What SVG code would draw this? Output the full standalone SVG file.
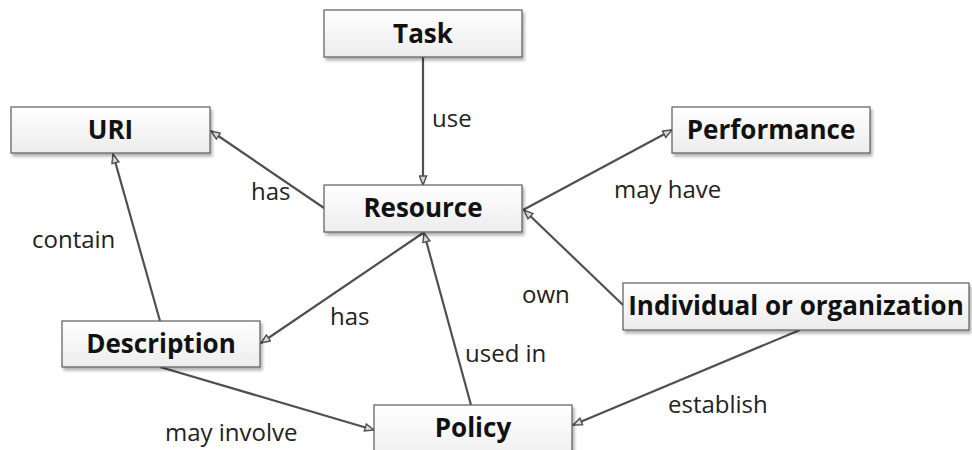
<svg xmlns="http://www.w3.org/2000/svg" width="972" height="450" viewBox="0 0 972 450">
  <defs>
    <linearGradient id="boxFill" x1="0" y1="0" x2="0" y2="1">
      <stop offset="0" stop-color="#ffffff"/>
      <stop offset="1" stop-color="#ececec"/>
    </linearGradient>
    <filter id="shadow" x="-10%" y="-20%" width="120%" height="150%">
      <feGaussianBlur in="SourceAlpha" stdDeviation="1.5"/>
      <feOffset dx="2" dy="3" result="b"/>
      <feComponentTransfer><feFuncA type="linear" slope="0.3"/></feComponentTransfer>
      <feMerge><feMergeNode/><feMergeNode in="SourceGraphic"/></feMerge>
    </filter>
    <marker id="arrow" viewBox="0 0 12 10" refX="11" refY="5" markerWidth="11" markerHeight="9" markerUnits="userSpaceOnUse" orient="auto">
      <path d="M1,1 L11,5 L1,9 Z" fill="#d8d8d8" stroke="#505050" stroke-width="1.6" stroke-linejoin="miter"/>
    </marker>
  </defs>
  <style>
    .box { fill: url(#boxFill); stroke: #5a5a5a; stroke-width: 1.2; filter: url(#shadow); }
    .node { font-family: "Open Sans", "Liberation Sans", sans-serif; font-weight: 700; font-size: 26px; fill: #111111; text-anchor: middle; }
    .edge { stroke: #505050; stroke-width: 2.2; fill: none; marker-end: url(#arrow); }
    .lbl { font-family: "Open Sans", "Liberation Sans", sans-serif; font-size: 24px; fill: #222222; }
  </style>
  <rect width="972" height="450" fill="#ffffff"/>

  <g id="connectors">
    <line class="edge" x1="423" y1="57" x2="423" y2="185"/>
    <line class="edge" x1="324" y1="208" x2="211" y2="131"/>
    <line class="edge" x1="523" y1="210" x2="672" y2="130"/>
    <line class="edge" x1="623" y1="305" x2="524" y2="210"/>
    <line class="edge" x1="423" y1="233" x2="261" y2="343"/>
    <line class="edge" x1="471" y1="405" x2="424" y2="233"/>
    <line class="edge" x1="160" y1="321" x2="113" y2="154"/>
    <line class="edge" x1="160" y1="367" x2="374" y2="430"/>
    <line class="edge" x1="800" y1="330" x2="573" y2="425"/>
    <text class="lbl" x="432" y="127">use</text>
    <text class="lbl" x="251" y="200">has</text>
    <text class="lbl" x="614" y="198">may have</text>
    <text class="lbl" x="32" y="248">contain</text>
    <text class="lbl" x="522" y="303">own</text>
    <text class="lbl" x="330" y="325">has</text>
    <text class="lbl" x="465" y="362">used in</text>
    <text class="lbl" x="668" y="413">establish</text>
    <text class="lbl" x="165" y="441">may involve</text>
  </g>

  <g id="task">
    <rect class="box" x="324" y="10" width="198" height="47"/>
    <text class="node" x="423" y="43">Task</text>
  </g>
  <g id="uri">
    <rect class="box" x="11" y="107" width="199" height="46"/>
    <text class="node" x="110.5" y="139">URI</text>
  </g>
  <g id="performance">
    <rect class="box" x="672" y="107" width="198" height="46"/>
    <text class="node" x="771" y="139">Performance</text>
  </g>
  <g id="resource">
    <rect class="box" x="324" y="185" width="198" height="47"/>
    <text class="node" x="423" y="217">Resource</text>
  </g>
  <g id="individual">
    <rect class="box" x="623" y="283" width="346" height="47"/>
    <text class="node" x="796" y="315">Individual or organization</text>
  </g>
  <g id="description">
    <rect class="box" x="62" y="321" width="198" height="46"/>
    <text class="node" x="161" y="353">Description</text>
  </g>
  <g id="policy">
    <rect class="box" x="374" y="405" width="198" height="60"/>
    <text class="node" x="473" y="437">Policy</text>
  </g>
</svg>
